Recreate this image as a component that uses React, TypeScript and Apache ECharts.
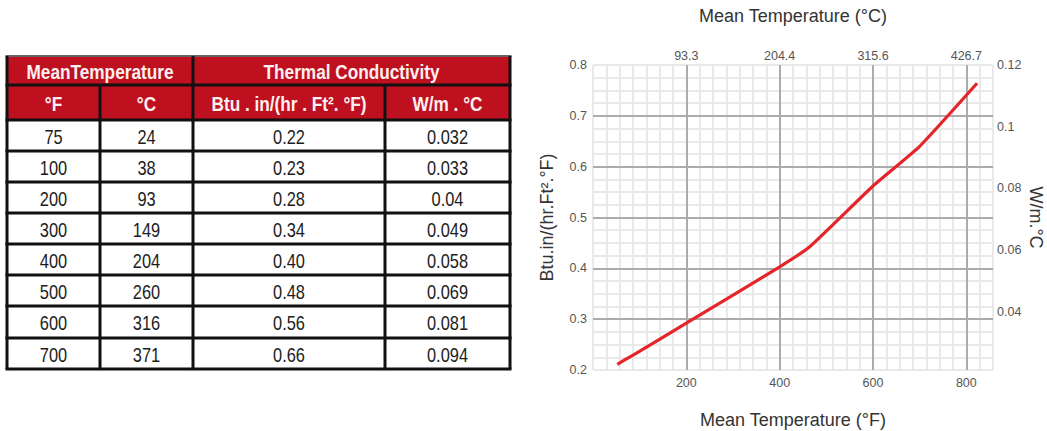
import React, { useEffect, useRef } from "react";
import * as echarts from "echarts";

// ---------- table data ----------
const headerGroups = ["MeanTemperature", "Thermal Conductivity"];
const headerUnits = ["°F", "°C", "Btu . in/(hr . Ft². °F)", "W/m . °C"];
const tempF = ["75", "100", "200", "300", "400", "500", "600", "700"];
const tempC = ["24", "38", "93", "149", "204", "260", "316", "371"];
const kBtu = ["0.22", "0.23", "0.28", "0.34", "0.40", "0.48", "0.56", "0.66"];
const kWmC = ["0.032", "0.033", "0.04", "0.049", "0.058", "0.069", "0.081", "0.094"];

// ---------- chart data ----------
const curveF = [52, 85, 200, 400, 465, 600, 700, 823];
const curveK = [0.211, 0.229, 0.292, 0.403, 0.443, 0.562, 0.64, 0.764];
const bottomTickLabelsF = [200, 400, 600, 800];
const leftTickLabels = [0.2, 0.3, 0.4, 0.5, 0.6, 0.7, 0.8];
const topTickLabelsC = [93.3, 204.4, 315.6, 426.7];
const rightTickLabels = [0.04, 0.06, 0.08, 0.1, 0.12];

const X_MAX_F = 6000 / 7;
const X_MINOR = 200 / 7;

function hasFont(name: string): boolean {
  try {
    const ctx = document.createElement("canvas").getContext("2d");
    if (!ctx) return false;
    const s = "MeanTemperature 0.123 Wm";
    ctx.font = "20px monospace";
    const a = ctx.measureText(s).width;
    ctx.font = `20px "${name}", monospace`;
    const b = ctx.measureText(s).width;
    return Math.abs(a - b) > 0.5;
  } catch (e) {
    return false;
  }
}

export default function App() {
  const ref = useRef<HTMLDivElement>(null);

  useEffect(() => {
    if (!ref.current) return;
    const narrow = hasFont("Liberation Sans Narrow");
    const chart = echarts.init(ref.current, null, { renderer: "svg" });

    const tblFont = narrow ? '"Liberation Sans Narrow", "Arial Narrow", sans-serif' : '"Liberation Sans", Arial, sans-serif';
    const tblScale = narrow ? 1 : 0.82;
    const lblFont = narrow ? '"Liberation Sans Narrow", "Arial Narrow", sans-serif' : '"Liberation Sans", Arial, sans-serif';
    const lblSize = narrow ? 15 : 12.5;
    const titleFont = '"Liberation Sans", Arial, sans-serif';

    // table layout
    const colX = [7, 100, 193, 385, 510];
    const rowY = [56, 85, 120, 151, 182, 213, 244, 275, 306, 338, 369];
    const red = "#bf1020";
    const g: any[] = [];
    g.push({
      type: "rect",
      shape: { x: colX[0], y: rowY[0], width: colX[4] - colX[0], height: rowY[2] - rowY[0] },
      style: { fill: red },
      z: 1,
    });
    const ln = (x1: number, y1: number, x2: number, y2: number, stroke = "#111", w = 3) =>
      g.push({ type: "line", shape: { x1, y1, x2, y2 }, style: { stroke, lineWidth: w }, z: 3 });
    rowY.forEach((y, i) => ln(colX[0] - 1.5, y, colX[4] + 1.5, y, i === 0 ? "#666" : "#111", i === 0 ? 2 : 3));
    [0, 2, 4].forEach((c) => ln(colX[c], rowY[0], colX[c], rowY[rowY.length - 1]));
    [1, 3].forEach((c) => ln(colX[c], rowY[1], colX[c], rowY[rowY.length - 1]));

    const txt = (text: string, cx: number, cy: number, bold: boolean, fill: string, size: number) =>
      g.push({
        type: "text",
        x: cx,
        y: cy,
        scaleX: tblScale,
        z: 4,
        style: {
          text,
          fill,
          fontFamily: tblFont,
          fontSize: size,
          fontWeight: bold ? "bold" : "normal",
          align: "center",
          verticalAlign: "middle",
          textAlign: "center",
          textVerticalAlign: "middle",
        },
      });
    headerGroups.forEach((h, i) => {
      const c0 = i * 2;
      txt(h, (colX[c0] + colX[c0 + 2]) / 2, (rowY[0] + rowY[1]) / 2 + 1, true, "#fdf0f0", 21);
    });
    headerUnits.forEach((h, i) => {
      txt(h, (colX[i] + colX[i + 1]) / 2, (rowY[1] + rowY[2]) / 2 + 1, true, "#fdf0f0", 21);
    });
    const cols = [tempF, tempC, kBtu, kWmC];
    cols.forEach((col, ci) => {
      col.forEach((v, ri) => {
        txt(v, (colX[ci] + colX[ci + 1]) / 2, (rowY[ri + 2] + rowY[ri + 3]) / 2 + 1, false, "#1c1c1c", 20);
      });
    });

    const axisLbl = { color: "#555", fontFamily: lblFont, fontSize: lblSize };
    const nameStyle = { color: "#333", fontFamily: titleFont, fontSize: 18 };
    const minorLine = { show: true, lineStyle: { color: "#e9e9e9", width: 2 } };
    const majorLine = { show: true, showMinLine: false, showMaxLine: false, lineStyle: { color: "#ababab", width: 2 } };
    const hidden = { axisLine: { show: false }, axisTick: { show: false } };

    chart.setOption({
      animation: false,
      backgroundColor: "#ffffff",
      grid: { left: 593, top: 65, width: 400, height: 305, containLabel: false, outerBoundsMode: "none" },
      xAxis: [
        {
          type: "value",
          position: "bottom",
          min: 0,
          max: X_MAX_F,
          interval: X_MINOR,
          ...hidden,
          axisLabel: { show: false },
          splitLine: minorLine,
          z: 1,
        },
        {
          type: "value",
          position: "bottom",
          min: 0,
          max: X_MAX_F,
          interval: 200,
          ...hidden,
          axisLabel: { ...axisLbl, margin: 6, customValues: bottomTickLabelsF },
          splitLine: majorLine,
          name: "Mean Temperature (°F)",
          nameLocation: "middle",
          nameGap: 41,
          nameMoveOverlap: false,
          nameTextStyle: nameStyle,
          z: 2,
        },
        {
          type: "value",
          position: "top",
          min: (0 - 32) / 1.8,
          max: (X_MAX_F - 32) / 1.8,
          ...hidden,
          axisLabel: { ...axisLbl, margin: 3, customValues: topTickLabelsC },
          splitLine: { show: false },
          name: "Mean Temperature (°C)",
          nameLocation: "middle",
          nameGap: 40,
          nameMoveOverlap: false,
          nameTextStyle: nameStyle,
        },
      ],
      yAxis: [
        {
          type: "value",
          position: "left",
          min: 0.2,
          max: 0.8,
          interval: 0.025,
          ...hidden,
          axisLabel: { show: false },
          splitLine: minorLine,
          z: 1,
        },
        {
          type: "value",
          position: "left",
          min: 0.2,
          max: 0.8,
          interval: 0.1,
          ...hidden,
          axisLabel: { ...axisLbl, margin: 6, customValues: leftTickLabels },
          splitLine: majorLine,
          name: "Btu.in/(hr.Ft².°F)",
          nameLocation: "middle",
          nameGap: 37,
          nameMoveOverlap: false,
          nameTextStyle: nameStyle,
          z: 2,
        },
        {
          type: "value",
          position: "right",
          min: 0.0212,
          max: 0.12,
          ...hidden,
          axisLabel: { ...axisLbl, margin: 4, customValues: rightTickLabels },
          splitLine: { show: false },
          name: "W/m.°C",
          nameLocation: "middle",
          nameRotate: -90,
          nameGap: 34,
          nameMoveOverlap: false,
          nameTextStyle: nameStyle,
        },
      ],
      series: [
        {
          type: "line",
          xAxisIndex: 0,
          yAxisIndex: 0,
          data: curveF.map((f, i) => [f, curveK[i]]),
          showSymbol: false,
          smooth: 0.15,
          lineStyle: { color: "#e4262b", width: 3.2 },
          z: 5,
        },
      ],
      graphic: { elements: g },
    });

    return () => chart.dispose();
  }, []);

  return (
    <div
      ref={ref}
      style={{ position: "fixed", left: 0, top: 0, width: 1047, height: 431, background: "#fff" }}
    />
  );
}
